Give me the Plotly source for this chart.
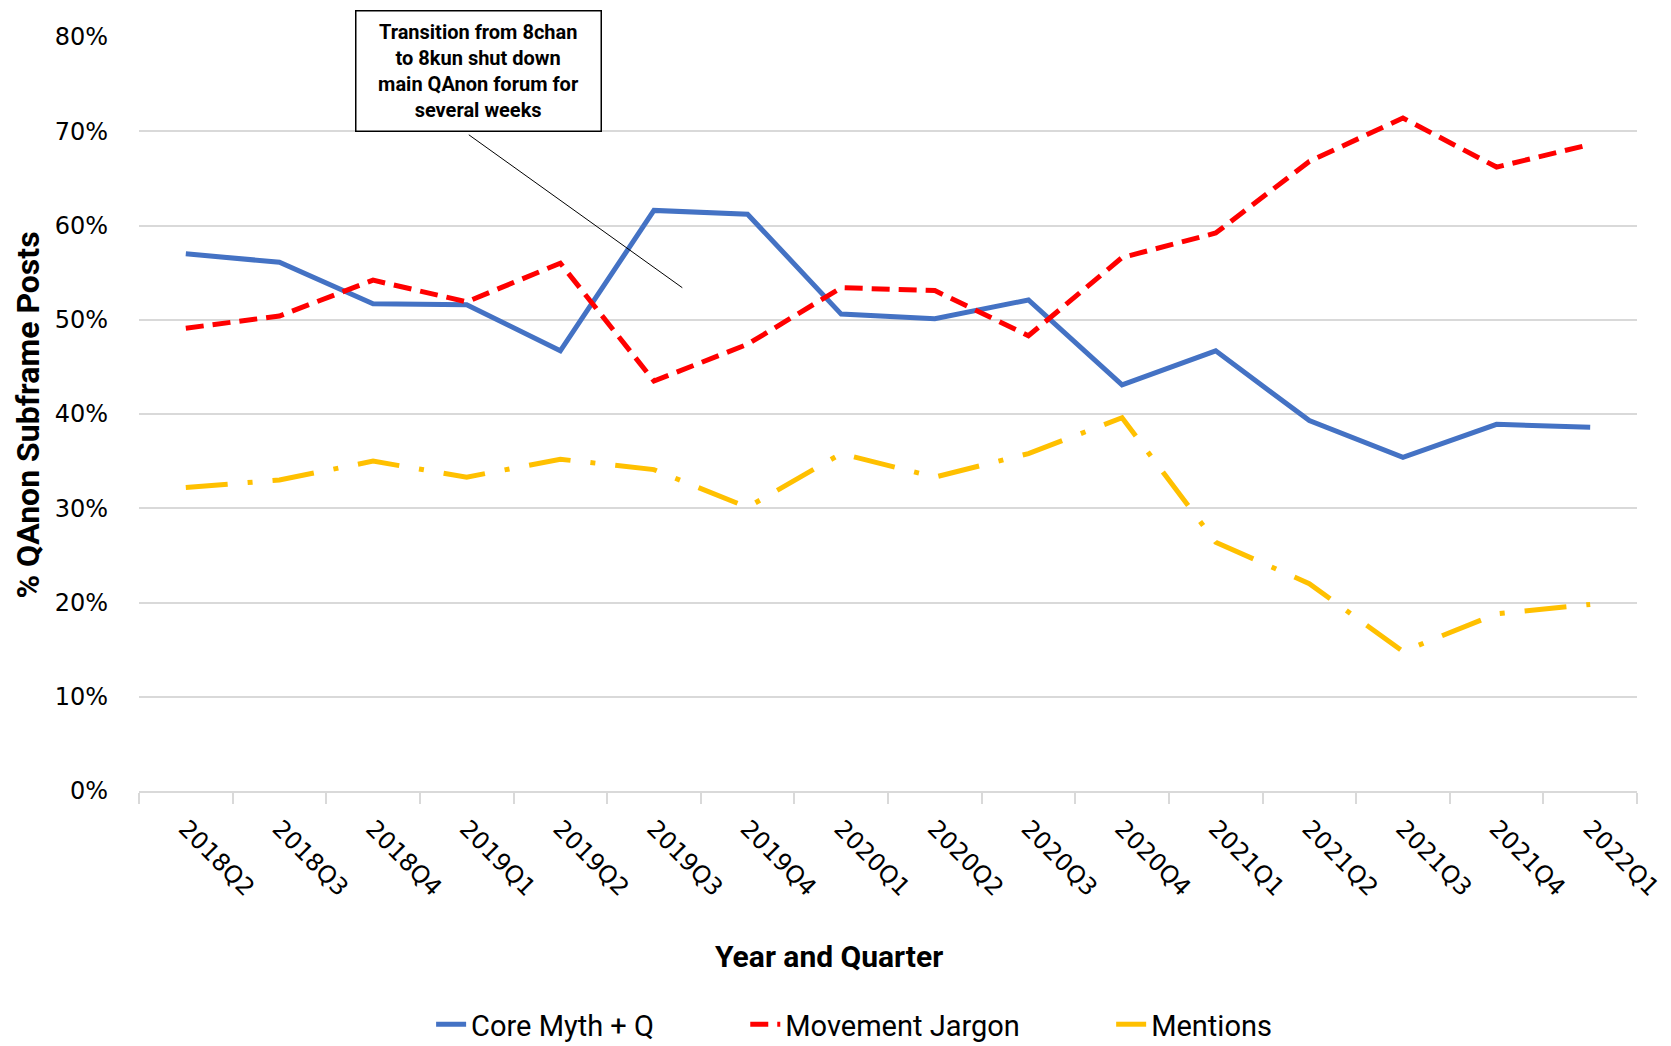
import plotly.graph_objects as go

quarters = ["2018Q2", "2018Q3", "2018Q4", "2019Q1", "2019Q2", "2019Q3", "2019Q4", "2020Q1",
            "2020Q2", "2020Q3", "2020Q4", "2021Q1", "2021Q2", "2021Q3", "2021Q4", "2022Q1"]
core_myth = [57.0, 56.1, 51.7, 51.6, 46.7, 61.6, 61.2, 50.6, 50.1, 52.1, 43.1, 46.7, 39.3, 35.4, 38.9, 38.6]
movement_jargon = [49.1, 50.4, 54.2, 51.9, 56.0, 43.5, 47.4, 53.4, 53.1, 48.3, 56.6, 59.2, 66.8, 71.4, 66.2, 68.6]
mentions = [32.2, 33.0, 35.0, 33.3, 35.2, 34.1, 30.1, 35.8, 33.3, 35.8, 39.6, 26.4, 22.0, 14.8, 18.8, 19.8]
y_ticks = [0, 10, 20, 30, 40, 50, 60, 70, 80]
y_tick_labels = [f"{v}%" for v in y_ticks]

LABELF = "Roboto, sans-serif"
TICKF = "DejaVu Sans, Verdana, sans-serif"
GAP = "\u00a0" * 12

fig = go.Figure()
fig.add_trace(go.Scatter(x=quarters, y=core_myth, mode="lines", name="Core Myth + Q" + GAP,
                         line=dict(color="#4472C4", width=5)))
fig.add_trace(go.Scatter(x=quarters, y=movement_jargon, mode="lines", name="Movement Jargon" + GAP,
                         line=dict(color="#FF0000", width=5, dash="18px,9px")))
fig.add_trace(go.Scatter(x=quarters, y=mentions, mode="lines", name="Mentions",
                         line=dict(color="#FFC000", width=5, dash="42px,20px,5px,20px")))

fig.update_layout(
    width=1663, height=1038,
    margin=dict(l=130.5, r=34, t=29.3, b=255.2, autoexpand=False),
    paper_bgcolor="white", plot_bgcolor="white",
    showlegend=True,
    legend=dict(orientation="h", x=0.195, xref="paper", xanchor="left", y=-0.3095, yanchor="middle",
                font=dict(family=LABELF, size=29, color="black")),
    xaxis=dict(type="category", range=[-0.5, 15.5], tickangle=45, showgrid=False,
               showline=True, linecolor="#d9d9d9", linewidth=2,
               ticks="outside", tickson="boundaries", ticklen=11, tickcolor="#d9d9d9", tickwidth=2,
               ticklabelstandoff=12,
               tickfont=dict(family=TICKF, size=24, color="black")),
    yaxis=dict(range=[0, 80], tickvals=y_ticks, ticktext=y_tick_labels,
               showgrid=True, gridcolor="#d9d9d9", gridwidth=2, zeroline=False,
               ticks="", ticklabelstandoff=30,
               tickfont=dict(family=TICKF, size=24, color="black")),
    annotations=[
        dict(text="<b>Year and Quarter</b>", xref="paper", yref="paper", x=0.4608, y=-0.2192,
             showarrow=False, font=dict(family=LABELF, size=30, color="black"),
             xanchor="center", yanchor="middle"),
        dict(text="<b>% QAnon Subframe Posts</b>", xref="paper", yref="paper", x=-0.0744, y=0.4987,
             textangle=-90, showarrow=False, font=dict(family=LABELF, size=32, color="black"),
             xanchor="center", yanchor="middle"),
        dict(text="", x=5.303, y=53.4, xref="x", yref="y", ax=-215, ay=-154, showarrow=True,
             arrowhead=0, arrowwidth=1, arrowcolor="black", standoff=0, startstandoff=0),
        dict(text="<b>Transition from 8chan<br>to 8kun shut down<br>main QAnon forum for<br>several weeks</b>",
             xref="paper", yref="paper", x=0.2269, y=0.9553, xanchor="center", yanchor="middle",
             showarrow=False, bordercolor="black", borderwidth=1.5, bgcolor="white",
             width=242, height=117, align="center",
             font=dict(family=LABELF, size=20, color="black")),
    ],
)

fig.write_html("out.html")
